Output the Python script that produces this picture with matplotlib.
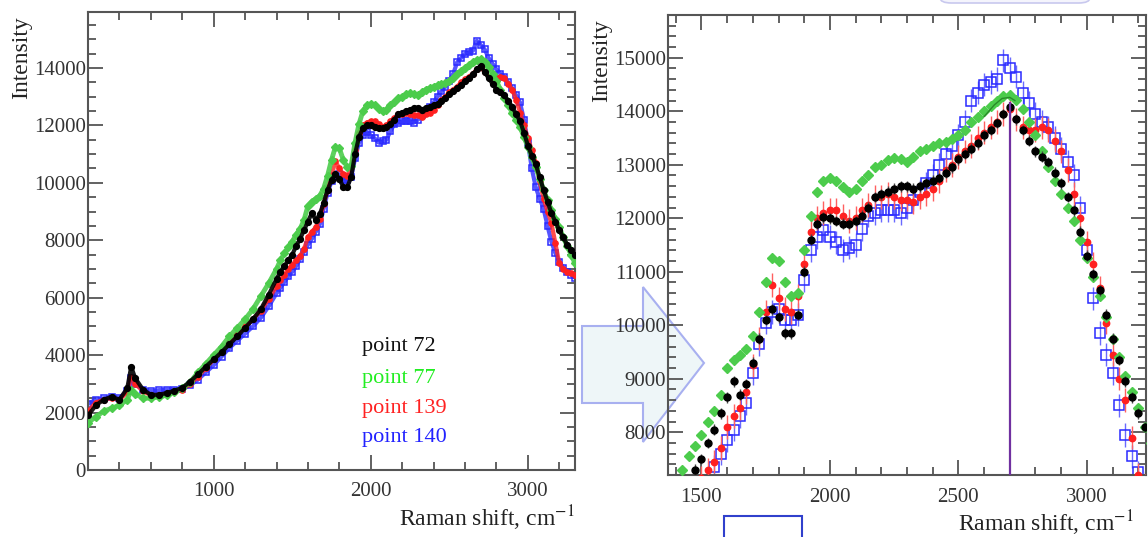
import numpy as np
import matplotlib
matplotlib.use('Agg')
import matplotlib.pyplot as plt
from matplotlib.patches import Polygon, Rectangle, FancyBboxPatch
from matplotlib.ticker import MultipleLocator

plt.rcParams['font.family'] = ['Liberation Serif', 'DejaVu Serif']
plt.rcParams['mathtext.fontset'] = 'stix'

# Raman shift grid (cm-1) and intensities
shift = ([200, 250, 300, 350, 400, 450, 475]
         + list(range(500, 1401, 50))
         + list(range(1425, 3301, 25)))

p72 = [1900, 2250, 2450, 2550, 2450, 2850, 3600,
       3200, 2800, 2620, 2620, 2680, 2760, 2860, 3080, 3330, 3600, 3850, 4100, 4380,
       4650, 4950, 5250, 5600, 6100, 6650,
       6900, 7100, 7300, 7500, 7800, 8050, 8350, 8650, 8950, 8700, 8900, 9300,
       9750, 10100, 10300, 10150, 9850, 9850, 10200, 11000, 11600, 11900, 12020, 12000,
       11950, 11900, 11900, 11950, 12050, 12200, 12400, 12450, 12500, 12550, 12600, 12600,
       12550, 12600, 12650, 12700, 12750, 12850, 12950, 13100, 13200, 13300, 13400, 13550,
       13650, 13780, 13950, 14080, 13850, 13650, 13450, 13250, 13150, 13050, 12850, 12650,
       12400, 12150, 11750, 11300, 10950, 10650, 10200, 9750, 9350, 8950, 8650, 8350,
       8100, 7850, 7650, 7500]

p77 = [1650, 1850, 2050, 2150, 2250, 2450, 2800,
       2650, 2500, 2500, 2550, 2600, 2720, 2850, 3050, 3400, 3700, 4000, 4300, 4650,
       4950, 5250, 5600, 6050, 6500, 7000,
       7300, 7550, 7750, 7950, 8200, 8400, 8700, 9200, 9350, 9450, 9550, 9800,
       10250, 10800, 11250, 11200, 10800, 10550, 10600, 11400, 12050, 12500, 12700, 12750,
       12700, 12580, 12500, 12550, 12700, 12800, 12950, 13000, 13080, 13120, 13100, 13050,
       13150, 13250, 13300, 13350, 13400, 13430, 13480, 13550, 13650, 13800, 13900, 14000,
       14100, 14200, 14280, 14300, 14220, 14050, 13800, 13550, 13250, 12950, 12700, 12450,
       12200, 11950, 11600, 11250, 10900, 10550, 10150, 9750, 9400, 9050, 8750, 8450,
       8100, 7800, 7500, 7200]

p139 = [2050, 2350, 2450, 2500, 2450, 2700, 3250,
        3000, 2750, 2600, 2600, 2650, 2720, 2800, 3000, 3250, 3550, 3850, 4150, 4450,
        4750, 5000, 5250, 5550, 5950, 6400,
        6600, 6800, 7000, 7150, 7300, 7450, 7700, 8100, 8300, 8450, 8750, 9250,
        9750, 10250, 10750, 10500, 10300, 10250, 10550, 11150, 11750, 12000, 12100, 12150,
        12150, 12050, 11950, 12000, 12150, 12250, 12400, 12400, 12450, 12400, 12350, 12350,
        12300, 12400, 12450, 12550, 12700, 12900, 13000, 13150, 13250, 13350, 13500, 13600,
        13700, 13800, 13950, 14050, 13850, 13700, 13650, 13650, 13700, 13650, 13450, 13250,
        12900, 12450, 12000, 11550, 11150, 10700, 10050, 9450, 9000, 8600, 7900, 7200,
        7000, 6900, 6850, 6800]

p140 = [2300, 2450, 2500, 2550, 2500, 2750, 3200,
        3000, 2800, 2750, 2780, 2800, 2800, 2820, 2950, 3150, 3400, 3650, 3950, 4250,
        4500, 4750, 5000, 5300, 5700, 6150,
        6350, 6550, 6750, 6900, 7100, 7350, 7600, 7850, 8050, 8300, 8550, 9100,
        9650, 10050, 10250, 10300, 10100, 10100, 10200, 10850, 11400, 11650, 11780, 11650,
        11550, 11400, 11450, 11500, 11800, 12050, 12100, 12150, 12150, 12150, 12100, 12200,
        12350, 12500, 12650, 12800, 13000, 13200, 13350, 13550, 13800, 14200, 14350, 14500,
        14550, 14600, 14950, 14800, 14650, 14350, 14150, 13950, 13800, 13700, 13500, 13300,
        13050, 12800, 12200, 11400, 10500, 9850, 9450, 9100, 8500, 7950, 7550, 7250,
        7050, 6900, 6800, 6700]

err72, err77, err139, err140 = 100, 60, 220, 220

labels = ['point 72', 'point 77', 'point 139', 'point 140']
text_colors = ['#111111', '#22ee22', '#ff2222', '#2222ff']

peak_line = 2700
fit_x = [2600, 2640, 2670, 2700, 2720]
fit_y = [13900, 14120, 14240, 14260, 14200]

W, H = 1148, 537
fig = plt.figure(figsize=(W / 100, H / 100), dpi=100)
fig.patch.set_facecolor('white')

frame_col = '#555555'


def style_axes(ax, xmaj, xmin, ymaj, ymin):
    ax.xaxis.set_major_locator(MultipleLocator(xmaj))
    ax.xaxis.set_minor_locator(MultipleLocator(xmin))
    ax.yaxis.set_major_locator(MultipleLocator(ymaj))
    ax.yaxis.set_minor_locator(MultipleLocator(ymin))
    ax.tick_params(which='both', direction='in', top=True, right=True,
                   color=frame_col, width=1.3, labelsize=15, labelcolor='#333333')
    ax.tick_params(which='major', length=10.5)
    ax.tick_params(which='minor', length=5.5)
    ax.tick_params(axis='y', pad=1.5)
    ax.tick_params(axis='x', pad=9)
    for s in ax.spines.values():
        s.set_color(frame_col)
        s.set_linewidth(1.5)
    ax.set_ylabel('Intensity', fontsize=17, loc='top', labelpad=1, color='#222222')
    ax.yaxis.label.set_y(0.99)
    ax.set_xlabel('Raman shift, cm$^{-1}$', fontsize=17, loc='right', labelpad=1.5,
                  color='#222222')


def draw_series(ax, lw, dense):
    x = np.array(shift)
    if dense:
        ax.plot(x, p140, color='#2a2aff', lw=lw, alpha=0.8, zorder=2)
        ax.plot(x, p139, color='#ff2020', lw=lw, alpha=0.8, zorder=3)
        ax.plot(x, p77, color='#4ccc4c', lw=lw + 0.5, alpha=0.9, zorder=4)
        ax.plot(x, p72, color='#000000', lw=lw, alpha=0.9, zorder=5)
    ax.errorbar(x, p140, yerr=None if dense else err140, fmt='s', ms=5 if dense else 6.5,
                mfc='none', mec='#2a2aff', mew=1.1, ecolor='#6a6aff', elinewidth=1, zorder=2)
    ax.errorbar(x, p139, yerr=None if dense else err139, fmt='o', ms=3.8 if dense else 4.6,
                color='#ff2020', ecolor='#ff6060', elinewidth=1, zorder=3)
    ax.plot(x, p77, 'D', ms=4.5 if dense else 5.5, color='#4ccc4c', zorder=4)
    ax.errorbar(x, p72, yerr=None if dense else err72, fmt='o', ms=4.2 if dense else 5,
                color='#000000', ecolor='#444444', elinewidth=1, zorder=5)


# left panel
axL = fig.add_axes([88 / W, (H - 470) / H, (575 - 88) / W, (470 - 12) / H])
draw_series(axL, 3.0, True)
axL.set_xlim(200, 3300)
axL.set_ylim(0, 15950)
style_axes(axL, 1000, 200, 2000, 500)
ys = [0.269, 0.199, 0.135, 0.070]
for lab, col, yy in zip(labels, text_colors, ys):
    axL.text(0.563, yy, lab, color=col, fontsize=16, va='center', ha='left',
             transform=axL.transAxes)

# right panel
axR = fig.add_axes([668 / W, (H - 475) / H, (1146 - 668) / W, (475 - 15) / H])
axR.patch.set_facecolor('none')
draw_series(axR, 1.2, False)
axR.plot(fit_x, fit_y, color='#2a8a2a', lw=1, zorder=6)
axR.axvline(peak_line, ymax=(14150 - 7200) / (15800 - 7200), color='#7030a0', lw=1.6, zorder=7)
axR.set_xlim(1370, 3230)
axR.set_ylim(7200, 15800)
style_axes(axR, 500, 100, 1000, 200)
axR.xaxis.label.set_x(0.975)

# block arrow between panels
arrow_px = [(582, 326), (643, 326), (643, 287), (704, 363), (643, 442), (643, 403), (582, 403)]
arrow = Polygon([(px / W, 1 - py / H) for px, py in arrow_px], closed=True,
                transform=fig.transFigure, facecolor='#eef6f8', edgecolor='#a8b0f0',
                lw=1.5, zorder=-1)
fig.patches.append(arrow)

# box at the bottom
box = Rectangle((724 / W, -0.05), (802 - 724) / W, 0.05 + (537 - 516) / H,
                transform=fig.transFigure, facecolor='white', edgecolor='#3040cc',
                lw=1.5, zorder=10)
fig.patches.append(box)

# faint shape at the top right
blob = FancyBboxPatch((940 / W, 1 - 3 / H), (1090 - 940) / W, 0.05,
                      boxstyle='round,pad=0,rounding_size=0.01',
                      transform=fig.transFigure, facecolor='#f4f4fc',
                      edgecolor='#c8c8ee', lw=1.2, zorder=10)
fig.patches.append(blob)

fig.savefig('out.png', dpi=100)
